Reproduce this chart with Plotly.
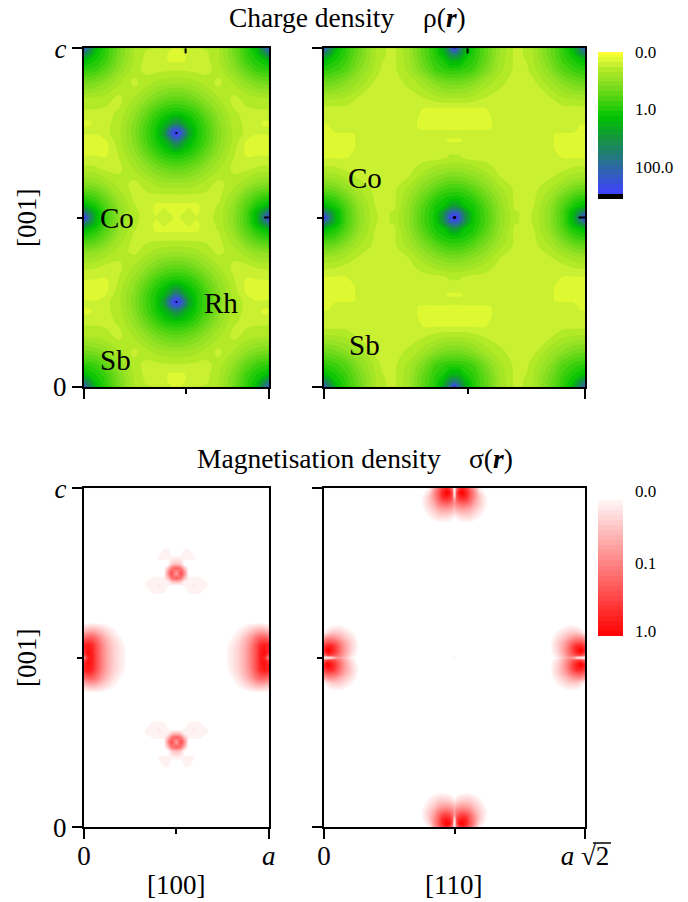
import numpy as np
import plotly.graph_objects as go

W, H = 688, 902
# ---- Charge-density scale: depth below the top of the colour bar (0 = "0.0", 1 = "1.0", 2 = "100.0")
# Panel [100]: nodes as fractions of a and c, quarter cell (Sb corner, Co edge, Rh centre)
rho_a_x = [0, .027, .065, .119, .19, .271, .336, .39, .433, .466, .487, .5]
rho_a_y = [0, .015, .035, .065, .103, .148, .192, .222, .242, .25, .257, .278, .31, .355, .399, .437, .464, .485, .496, .5]
rho_a = [
 [2.1,1.75,1.2,.93,.63,.34,.27,.25,.22,.19,.15,.15],
 [1.75,1.5,1.1,.92,.62,.34,.24,.23,.2,.15,.15,.15],
 [1.2,1.1,1.02,.88,.58,.33,.23,.23,.2,.15,.15,.15],
 [.93,.92,.88,.73,.5,.29,.23,.23,.24,.25,.25,.25],
 [.63,.62,.58,.5,.35,.23,.3,.37,.4,.41,.42,.42],
 [.34,.33,.32,.29,.23,.35,.48,.6,.67,.71,.72,.72],
 [.23,.23,.23,.23,.27,.48,.7,.89,1.0,1.05,1.07,1.07],
 [.15,.15,.2,.23,.3,.54,.82,1.02,1.2,1.4,1.58,1.6],
 [.2,.2,.22,.23,.32,.56,.85,1.05,1.4,2.0,2.25,2.3],
 [.22,.22,.22,.23,.32,.56,.85,1.05,1.42,2.05,2.4,2.55],
 [.15,.15,.15,.22,.32,.56,.85,1.05,1.41,2.0,2.3,2.38],
 [.15,.15,.15,.15,.31,.54,.82,1.02,1.2,1.45,1.7,1.75],
 [.15,.15,.15,.15,.27,.48,.7,.89,1.0,1.05,1.07,1.07],
 [.28,.28,.27,.23,.23,.35,.48,.6,.67,.71,.72,.72],
 [.54,.53,.5,.41,.3,.23,.3,.37,.4,.41,.42,.42],
 [.89,.88,.81,.65,.4,.23,.23,.23,.23,.23,.23,.23],
 [1.2,1.1,1.0,.78,.48,.26,.23,.15,.15,.15,.15,.15],
 [1.9,1.6,1.2,.85,.51,.27,.23,.15,.2,.16,.15,.15],
 [2.35,1.85,1.2,.85,.52,.28,.23,.17,.21,.2,.15,.15],
 [2.55,1.9,1.2,.85,.52,.27,.23,.17,.21,.2,.15,.15],
]
# Panel [110]
rho_b_x = [0, .019, .046, .084, .134, .192, .222, .268, .326, .383, .429, .46, .483, .494, .5]
rho_b_y = [0, .015, .035, .065, .103, .148, .177, .207, .236, .254, .272, .295, .325, .355, .384, .414, .443, .467, .485, .496, .5]
rho_b = [
 [2.1,1.75,1.2,.93,.67,.37,.27,.23,.42,.75,1.0,1.35,1.9,2.35,2.55],
 [1.75,1.5,1.1,.93,.66,.37,.27,.23,.42,.75,.99,1.25,1.65,1.8,1.8],
 [1.2,1.1,1.02,.88,.62,.36,.26,.23,.4,.72,.95,1.05,1.25,1.25,1.25],
 [.95,.93,.88,.78,.53,.33,.24,.23,.37,.62,.85,.92,.95,.95,.95],
 [.67,.66,.62,.53,.4,.24,.23,.23,.27,.4,.54,.6,.63,.63,.63],
 [.37,.36,.35,.33,.24,.23,.23,.23,.23,.25,.3,.33,.33,.33,.33],
 [.23,.23,.23,.23,.23,.23,.23,.23,.23,.17,.17,.17,.17,.17,.17],
 [.21,.21,.23,.23,.23,.23,.23,.23,.2,.15,.15,.15,.15,.15,.15],
 [.15,.15,.23,.23,.23,.23,.23,.23,.2,.15,.15,.15,.15,.15,.15],
 [.15,.15,.15,.15,.18,.23,.23,.23,.23,.23,.23,.23,.21,.21,.21],
 [.15,.15,.15,.15,.18,.23,.23,.23,.23,.23,.23,.18,.15,.15,.15],
 [.15,.15,.15,.15,.18,.23,.23,.23,.23,.23,.23,.23,.23,.23,.23],
 [.17,.17,.17,.17,.21,.23,.23,.23,.23,.23,.23,.25,.27,.27,.27],
 [.28,.28,.27,.23,.23,.23,.23,.23,.23,.3,.39,.42,.44,.44,.44],
 [.44,.43,.4,.34,.25,.23,.23,.23,.26,.44,.54,.6,.63,.63,.63],
 [.68,.67,.62,.5,.34,.23,.23,.23,.37,.57,.74,.83,.87,.87,.87],
 [.95,.93,.86,.68,.42,.25,.23,.23,.44,.71,.93,1.02,1.06,1.07,1.07],
 [1.2,1.12,1.03,.8,.49,.26,.23,.23,.48,.8,1.04,1.12,1.4,1.5,1.5],
 [1.9,1.6,1.2,.85,.51,.27,.23,.27,.5,.84,1.07,1.55,2.0,2.1,2.12],
 [2.35,1.85,1.2,.85,.52,.28,.23,.27,.5,.85,1.08,1.6,2.25,2.45,2.5],
 [2.55,1.9,1.2,.85,.52,.27,.23,.27,.5,.85,1.08,1.6,2.25,2.5,2.55],
]
# ---- Magnetisation-density scale
sig_a_x = [0, .022, .043, .065, .097, .13, .162, .195, .227, .271, .357, .379, .406, .433, .455, .476, .5]
sig_a_y = [0, .165, .183, .206, .224, .236, .251, .265, .277, .289, .307, .324, .383, .398, .416, .44, .463, .487, .5]
sig_a = [
 [0]*17,
 [0]*17,
 [0,0,0,0,0,0,0,0,0,0,0,0,0,.05,.05,0,0],
 [0,0,0,0,0,0,0,0,0,0,0,0,.05,.05,.05,.05,.05],
 [0,0,0,0,0,0,0,0,0,0,0,0,0,0,0,.2,.25],
 [0,0,0,0,0,0,0,0,0,0,0,0,0,0,.25,.55,.65],
 [0,0,0,0,0,0,0,0,0,0,0,0,0,0,.45,.7,.35],
 [0,0,0,0,0,0,0,0,0,0,.03,.05,.05,.05,.25,.55,.65],
 [0,0,0,0,0,0,0,0,0,0,.05,.05,.07,.05,.05,.2,.25],
 [0,0,0,0,0,0,0,0,0,0,.05,.05,.08,.05,.04,0,0],
 [0,0,0,0,0,0,0,0,0,0,.03,.05,.05,.04,0,0,0],
 [0]*17,
 [0]*17,
 [0,.02,.03,.03,.02,0,0,0,0,0,0,0,0,0,0,0,0],
 [.2,.25,.27,.25,.18,.1,.04,0,0,0,0,0,0,0,0,0,0],
 [.55,.62,.62,.55,.38,.24,.12,.04,0,0,0,0,0,0,0,0,0],
 [.85,.9,.85,.7,.48,.3,.18,.09,.02,0,0,0,0,0,0,0,0],
 [.8,.95,.9,.72,.5,.32,.19,.1,.03,0,0,0,0,0,0,0,0],
 [.45,.85,.9,.72,.5,.32,.19,.1,.03,0,0,0,0,0,0,0,0],
]
# Panel [110]: one lobe pair, read along (u) and across (v) its nodal line
lobe_u = [0, 4, 8, 12, 16, 20, 24, 28, 32, 35]
lobe_v = [0, 2, 5, 8, 12, 16, 20, 25, 30, 34]
lobe = [
 [0,.03,.1,.35,.4,.3,.18,.05,0,0],
 [.5,.7,.7,.6,.5,.36,.22,.1,.03,0],
 [.75,.95,.85,.72,.55,.4,.26,.14,.05,0],
 [.85,1,.9,.75,.58,.42,.28,.16,.07,.01],
 [.75,.85,.85,.72,.55,.4,.28,.17,.08,.01],
 [.55,.65,.62,.58,.48,.35,.25,.16,.07,.01],
 [.35,.45,.45,.4,.33,.25,.18,.11,.04,0],
 [.05,.15,.22,.22,.2,.15,.1,.05,.01,0],
 [0,.03,.07,.08,.08,.05,.02,0,0,0],
 [0,0,0,.01,.01,0,0,0,0,0],
]
centre_speck = 0.12

rho_ticks = ["0.0", "1.0", "100.0"]
rho_tickvals = [0, -1, -2]
sig_ticks = ["0.0", "0.1", "1.0"]

def mirror(xs, ys, table):
    t = np.array(table, float)
    t = np.hstack([t, t[:, -2::-1]])
    t = np.vstack([t, t[-2::-1, :]])
    xs = np.array(xs, float); ys = np.array(ys, float)
    return np.r_[xs, 1 - xs[-2::-1]], np.r_[ys, 1 - ys[-2::-1]], -t

def fx(p): return p / W
def fy(p): return 1 - p / H

lu = np.array(lobe_u, float); lv = np.array(lobe_v, float); L = np.array(lobe, float)
xn = np.r_[lu, 40, 130.5 - lv[::-1]] / 261
yn = np.r_[lu, 40, 169.5 - lv[::-1]] / 339
sd = np.zeros((21, 21))
sd[11:, :10] = L[::-1, :]      # edge pair
sd[:10, 11:] = L.T[:, ::-1]    # base pair
sd[-1, -1] = centre_speck

RHO_SCALE = [[0, "#000000"], [.033, "#000000"], [.034, "rgb(64,64,255)"], [.219, "rgb(45,105,165)"],
             [.414, "rgb(20,150,60)"], [.5625, "rgb(0,195,0)"], [.668, "rgb(70,210,15)"],
             [.805, "rgb(145,225,35)"], [.883, "rgb(178,234,40)"], [.918, "rgb(203,240,50)"],
             [.95, "rgb(222,248,50)"], [1, "rgb(255,255,50)"]]
SIG_SCALE = [[0, "rgb(255,0,0)"], [.95, "rgb(255,243,243)"], [.965, "#ffffff"], [1, "#ffffff"]]

FONT = "Liberation Serif"
fig = go.Figure()
rho_cont = dict(start=-2.56, end=0, size=2.56/30, coloring="fill", showlines=False)
sig_cont = dict(start=-1, end=0, size=1/28, coloring="fill", showlines=False)

xa, ya, za = mirror(rho_a_x, rho_a_y, rho_a)
xb, yb, zb = mirror(rho_b_x, rho_b_y, rho_b)
xc, yc, zc = mirror(sig_a_x, sig_a_y, sig_a)
xd, yd, zd = mirror(xn, yn, sd)

fig.add_trace(go.Contour(x=xa, y=ya, z=za, xaxis="x", yaxis="y", contours=rho_cont, zmin=-2.56, zmax=0,
                         colorscale=RHO_SCALE, showscale=False, line=dict(width=0, smoothing=1)))
fig.add_trace(go.Contour(x=xb, y=yb, z=zb, xaxis="x2", yaxis="y2", contours=rho_cont, zmin=-2.56, zmax=0,
                         colorscale=RHO_SCALE, line=dict(width=0, smoothing=1),
                         colorbar=dict(x=fx(598), xanchor="left", xpad=0, ypad=0, y=fy(199), yanchor="bottom",
                                       len=147/H, lenmode="fraction", thickness=25, thicknessmode="pixels",
                                       outlinewidth=0, tickmode="array", tickvals=rho_tickvals, ticktext=rho_ticks,
                                       ticks="outside", ticklen=9, tickcolor="rgba(0,0,0,0)",
                                       tickfont=dict(family=FONT, size=17, color="black"))))
fig.add_trace(go.Contour(x=xc, y=yc, z=zc, xaxis="x3", yaxis="y3", contours=sig_cont, zmin=-1, zmax=0,
                         colorscale=SIG_SCALE, showscale=False, line=dict(width=0, smoothing=1)))
fig.add_trace(go.Contour(x=xd, y=yd, z=zd, xaxis="x4", yaxis="y4", contours=sig_cont, zmin=-1, zmax=0,
                         colorscale=SIG_SCALE, line=dict(width=0, smoothing=1),
                         colorbar=dict(x=fx(598), xanchor="left", xpad=0, ypad=0, y=fy(636), yanchor="bottom",
                                       len=141/H, lenmode="fraction", thickness=25, thicknessmode="pixels",
                                       outlinewidth=0, showticklabels=False, ticks="")))

def xaxis(l, r, anchor, mid, labels=None):
    d = dict(domain=[fx(l), fx(r)], range=[0, 1], anchor=anchor, showgrid=False, zeroline=False,
             showline=True, mirror=True, linecolor="black", linewidth=2,
             tickmode="array", tickvals=[0, 1], ticks="outside", ticklen=10, tickwidth=2, tickcolor="black",
             minor=dict(tickmode="array", tickvals=[mid], ticks="outside", ticklen=5, tickwidth=2, tickcolor="black"),
             showticklabels=labels is not None)
    if labels:
        d.update(ticktext=labels, tickfont=dict(family=FONT, size=27, color="black"), ticklabelstandoff=-7)
    return d

def yaxis(t, b, anchor, labels=None):
    d = dict(domain=[fy(b), fy(t)], range=[0, 1], anchor=anchor, showgrid=False, zeroline=False,
             showline=True, mirror=True, linecolor="black", linewidth=2,
             tickmode="array", tickvals=[0, 1], ticks="outside", ticklen=10, tickwidth=2, tickcolor="black",
             minor=dict(tickmode="array", tickvals=[.5], ticks="outside", ticklen=5, tickwidth=2, tickcolor="black"),
             showticklabels=labels is not None)
    if labels:
        d.update(ticktext=labels, tickfont=dict(family=FONT, size=27, color="black"))
    return d

def note(text, x, y, size=27, **kw):
    return dict(text=text, x=fx(x), y=fy(y), xref="paper", yref="paper", showarrow=False,
                font=dict(family=FONT, size=size, color="black"), xanchor=kw.pop("xanchor", "center"),
                yanchor="middle", **kw)

ann = [
    note("Charge density", 227, 18, 27.5, xanchor="left"),
    note("ρ(<b><i>r</i></b>)", 421, 18, 27.5, xanchor="left"),
    note("Magnetisation density", 195, 458, 27.5, xanchor="left"),
    note("σ(<b><i>r</i></b>)", 467, 458, 27.5, xanchor="left"),
    note("[001]", 27, 218, 27, textangle=-90),
    note("[001]", 27, 658, 27, textangle=-90),
    note("Co", 117, 218, 29), note("Rh", 221, 303, 29), note("Sb", 115, 360, 29),
    note("Co", 365, 178, 29), note("Sb", 364, 345, 29),
    note("[100]", 176, 885, 27), note("[110]", 454, 885, 27),
]
for t, y in zip(sig_ticks, [491, 563, 631]):
    ann.append(note(t, 633, y, 17, xanchor="left"))

shapes = []
for xr, yr in [("x", "y"), ("x2", "y2")]:
    shapes.append(dict(type="line", xref=xr, yref=yr + " domain", x0=.55, x1=.55, y0=1, y1=.985,
                       line=dict(color="black", width=2)))
    shapes.append(dict(type="line", xref=xr + " domain", yref=yr, x0=1, x1=.975, y0=.5, y1=.5,
                       line=dict(color="black", width=2)))
# the bar over the 2 of the root sign in the [110] axis end label
shapes.append(dict(type="line", xref="paper", yref="paper", x0=fx(593), x1=fx(611), y0=fy(843), y1=fy(843),
                   line=dict(color="black", width=1.5)))

fig.update_layout(
    width=W, height=H, paper_bgcolor="white", plot_bgcolor="white", showlegend=False,
    margin=dict(l=0, r=0, t=0, b=0, autoexpand=False),
    xaxis=xaxis(84, 268.7, "y", .55), yaxis=yaxis(48.3, 386.7, "x", ["0", "<i>c</i>"]),
    xaxis2=xaxis(324, 585, "y2", .55), yaxis2=yaxis(48.3, 386.7, "x2"),
    xaxis3=xaxis(84, 268.7, "y3", .5, ["0", "<i>a</i>"]), yaxis3=yaxis(488.3, 827.3, "x3", ["0", "<i>c</i>"]),
    xaxis4=xaxis(324, 585, "y4", .5, ["0", "<i>a</i> √2"]), yaxis4=yaxis(488.3, 827.3, "x4"),
    annotations=ann, shapes=shapes,
)
fig.write_html("out.html", config={"displayModeBar": False},
               post_script="document.body.style.margin='0';document.body.style.overflow='hidden';")
